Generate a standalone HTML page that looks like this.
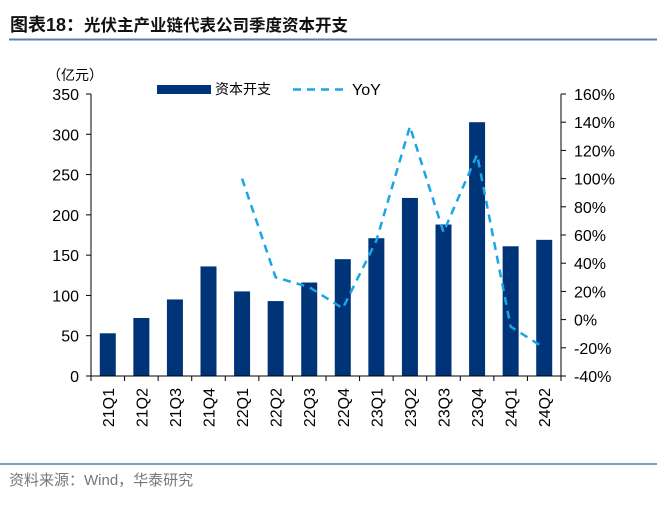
<!DOCTYPE html>
<html><head><meta charset="utf-8"><style>
body{margin:0;background:#fff;width:657px;height:503px;overflow:hidden;font-family:"Liberation Sans","Noto Sans CJK SC",sans-serif}
</style></head><body>
<svg width="657" height="503" xmlns="http://www.w3.org/2000/svg">
<text x="10" y="31" font-size="18" font-weight="bold" fill="#111" font-family="Liberation Sans,Noto Sans CJK SC,sans-serif">图表18：<tspan x="84" font-size="16.5">光伏主产业链代表公司季度资本开支</tspan></text>
<line x1="9" y1="39.5" x2="657" y2="39.5" stroke="#5b7db3" stroke-width="2"/>
<text x="47" y="80" font-size="14" fill="#000" font-family="Liberation Sans,Noto Sans CJK SC,sans-serif">（亿元）</text>
<rect x="157" y="85" width="54" height="9" fill="#003478"/>
<text x="215" y="94" font-size="14" fill="#000" font-family="Liberation Sans,Noto Sans CJK SC,sans-serif">资本开支</text>
<line x1="293" y1="89.5" x2="344" y2="89.5" stroke="#1aa5e6" stroke-width="2.5" stroke-dasharray="8,6"/>
<text x="352" y="95" font-size="16" fill="#000">YoY</text>
<g id="g"></g>
<line x1="0" y1="464" x2="657" y2="464" stroke="#5b7db3" stroke-width="1.5"/>
<text x="9" y="485" font-size="15" fill="#777" font-family="Liberation Sans,Noto Sans CJK SC,sans-serif">资料来源：Wind，华泰研究</text>
</svg>
<script>
const categories=["21Q1","21Q2","21Q3","21Q4","22Q1","22Q2","22Q3","22Q4","23Q1","23Q2","23Q3","23Q4","24Q1","24Q2"];
const capex=[53,72,95,136,105,93,116,145,171,221,188,315,161,169];
const yoy=[null,null,null,null,100,30,23,8,56,137,62,117,-5,-20];
const leftTicks=[0,50,100,150,200,250,300,350];
const rightTicks=[-40,-20,0,20,40,60,80,100,120,140,160];
const NS="http://www.w3.org/2000/svg";
const g=document.getElementById('g');
const X0=91,X1=561,Y0=376,Y1=94;
const step=(X1-X0)/categories.length;
const xc=i=>X0+step*(i+0.5);
const yL=v=>Y0-(v/350)*(Y0-Y1);
const yR=v=>Y0-((v+40)/200)*(Y0-Y1);
function mk(t,a){const e=document.createElementNS(NS,t);for(const k in a)e.setAttribute(k,a[k]);g.appendChild(e);return e;}
capex.forEach((v,i)=>{
const r=mk('rect',{x:xc(i)-8,y:yL(v),width:16,height:Y0-yL(v),fill:'#003478'});


});
let a=mk('line',{x1:X0,y1:Y1,x2:X0,y2:Y0,stroke:'#000'});


a=mk('line',{x1:X1,y1:Y1,x2:X1,y2:Y0,stroke:'#000'});


a=mk('line',{x1:X0,y1:Y0,x2:X1,y2:Y0,stroke:'#000'});


leftTicks.forEach(v=>{
mk('line',{x1:X0-5,y1:yL(v),x2:X0,y2:yL(v),stroke:'#000'});
const t=mk('text',{x:X0-12,y:yL(v)+6,'font-size':16,'text-anchor':'end',fill:'#000'});t.textContent=v;


});
rightTicks.forEach(v=>{
mk('line',{x1:X1,y1:yR(v),x2:X1+5,y2:yR(v),stroke:'#000'});
const t=mk('text',{x:X1+13,y:yR(v)+6,'font-size':16,fill:'#000'});t.textContent=v+'%';


});
for(let i=0;i<=categories.length;i++)mk('line',{x1:X0+step*i,y1:Y0,x2:X0+step*i,y2:Y0+5,stroke:'#000'});
categories.forEach((c,i)=>{
const t=mk('text',{x:0,y:0,'font-size':16,'text-anchor':'end',fill:'#000',transform:`translate(${xc(i)+6},388) rotate(-90)`});t.textContent=c;


});
const pts=yoy.map((v,i)=>v==null?null:[xc(i),yR(v)]).filter(p=>p);
const l=mk('polyline',{points:pts.map(p=>p.join(',')).join(' '),fill:'none',stroke:'#1aa5e6','stroke-width':2.5,'stroke-dasharray':'8,6'});


</script>
</body></html>
